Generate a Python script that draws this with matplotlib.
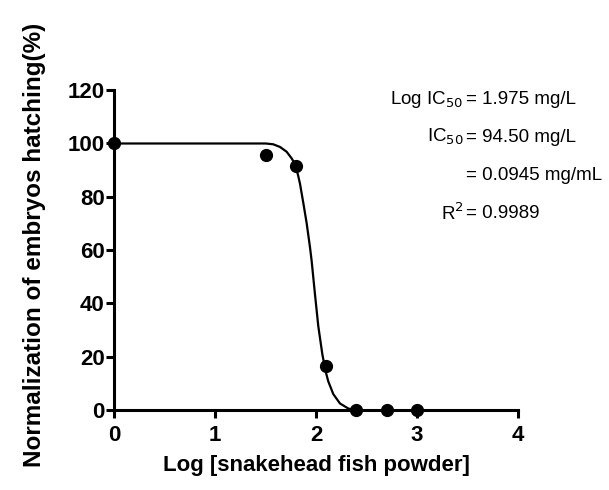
import numpy as np
import matplotlib
matplotlib.use("Agg")
import matplotlib.pyplot as plt

plt.rcParams['font.family'] = ['Liberation Sans', 'DejaVu Sans']

# measured points
log_conc = [0.0, 1.5, 1.8, 2.1, 2.4, 2.7, 3.0]
hatching = [100, 95.6, 91.5, 16.5, 0, 0, 0]

# fitted curve
curve_x = [0.0, 1.0, 1.5, 1.575, 1.642, 1.708, 1.758, 1.78, 1.80, 1.82, 1.84, 1.873, 1.907,
           1.94, 1.956, 1.989, 2.022, 2.062, 2.095, 2.121, 2.171, 2.237, 2.32, 2.386]
curve_y = [100, 100, 100, 99.7, 98.7, 96.9, 94.4, 93.0, 91.0, 88.3, 85.0, 77.8, 70.0,
           61.0, 56.0, 43.5, 31.5, 21.0, 14.5, 10.8, 6.0, 2.5, 0.6, 0.0]

x_ticks = [0, 1, 2, 3, 4]
y_ticks = [0, 20, 40, 60, 80, 100, 120]

fig = plt.figure(figsize=(6.09, 4.90), dpi=100)
ax = fig.add_axes([0.188, 0.163, 0.662, 0.653])

ax.plot(curve_x, curve_y, '-', color='black', lw=1.6, clip_on=False,
        solid_joinstyle='round')
ax.plot(log_conc, hatching, 'o', color='black', ms=8.5, clip_on=False, zorder=5)

ax.set_xlim(0, 4)
ax.set_ylim(0, 120)
ax.set_xticks(x_ticks)
ax.set_yticks(y_ticks)
for s in ['top', 'right']:
    ax.spines[s].set_visible(False)
for s in ['left', 'bottom']:
    ax.spines[s].set_linewidth(2.2)
ax.tick_params(width=2.2, length=6, pad=1, labelsize=16)
for lab in ax.get_xticklabels() + ax.get_yticklabels():
    lab.set_fontweight('bold')
ax.tick_params(axis='x', pad=5)

ax.set_xlabel('Log [snakehead fish powder]', fontsize=16, fontweight='bold', labelpad=6)
fig.text(0.057, 0.5, 'Normalization of embryos hatching(%)', rotation=90,
         ha='center', va='center', fontsize=17.5, fontweight='bold')

# fit results, aligned on the equals sign
ex = 466 / 609
rows = [(1 - 100 / 490, r'Log IC$_{50}$', '= 1.975 mg/L'),
        (1 - 137 / 490, r'IC$_{50}$', '= 94.50 mg/L'),
        (1 - 175 / 490, '', '= 0.0945 mg/mL'),
        (1 - 213 / 490, r'R$^{2}$', '= 0.9989')]
for yy, left, right in rows:
    if left:
        fig.text(ex - 0.004, yy, left, ha='right', va='center', fontsize=13.5,
                 math_fontfamily='custom')
    fig.text(ex, yy, right, ha='left', va='center', fontsize=13.5)

fig.savefig('out.png', dpi=100)
